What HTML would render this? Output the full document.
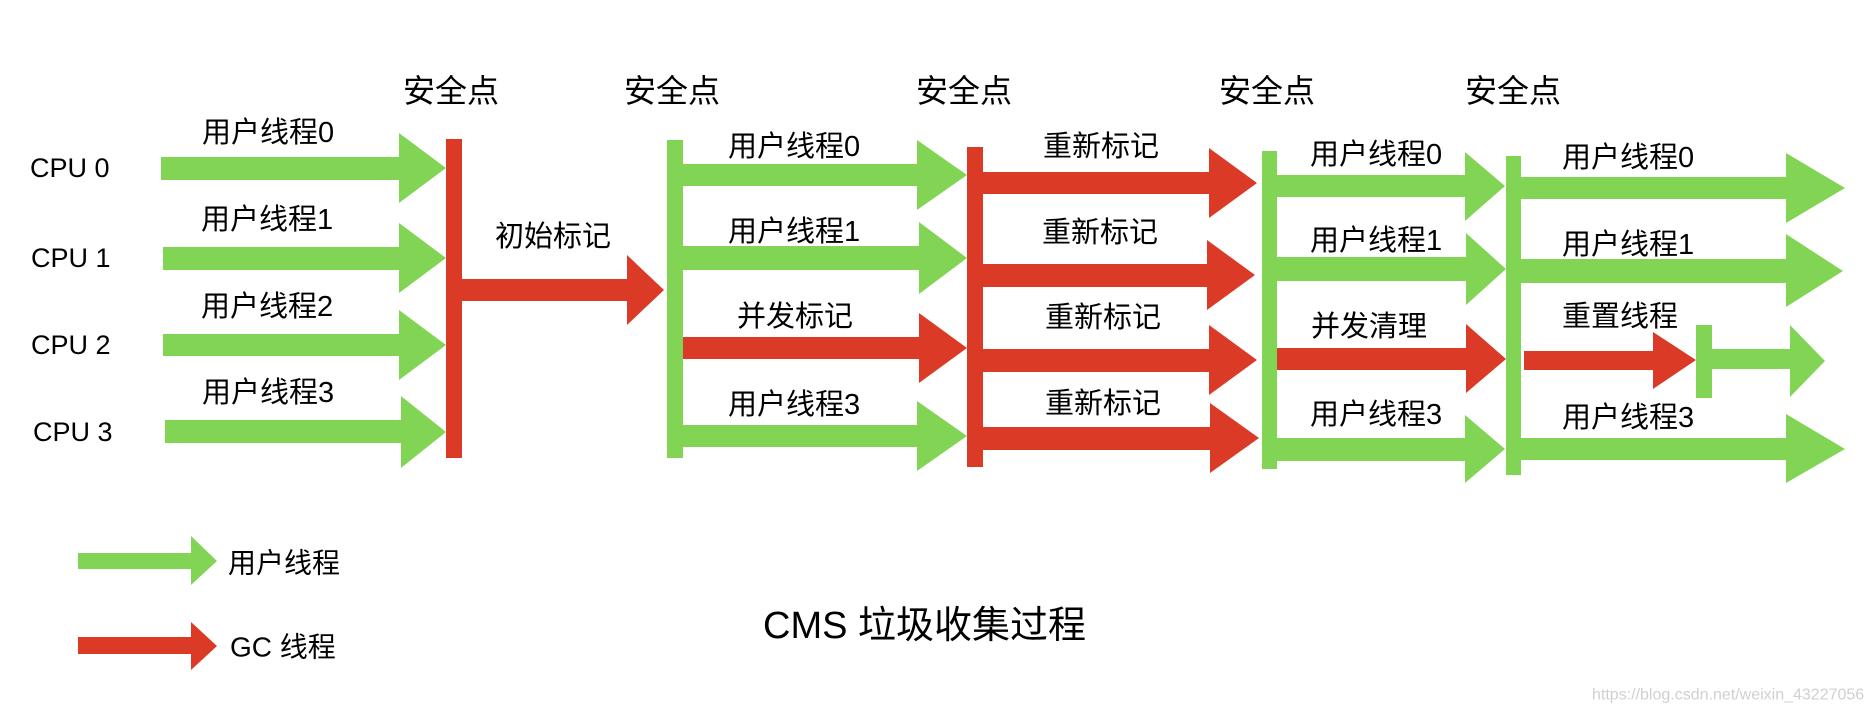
<!DOCTYPE html>
<html><head><meta charset="utf-8"><style>
html,body{margin:0;padding:0;background:#fff;}
svg{display:block;}
text{font-family:"Liberation Sans","Noto Sans CJK SC",sans-serif;fill:#000;dominant-baseline:central;}
</style></head><body>
<svg width="1870" height="714" viewBox="0 0 1870 714" xmlns="http://www.w3.org/2000/svg">
<rect width="1870" height="714" fill="#fff"/>
<g font-size="32">
<text x="403" y="91">安全点</text>
<text x="624" y="91">安全点</text>
<text x="916" y="91">安全点</text>
<text x="1219" y="91">安全点</text>
<text x="1465" y="91">安全点</text>
</g>
<g font-size="27">
<text x="30" y="168">CPU 0</text>
<text x="31" y="258">CPU 1</text>
<text x="31" y="345">CPU 2</text>
<text x="33" y="432">CPU 3</text>
</g>
<!-- col1 green arrows -->
<g fill="#82d454">
<polygon points="161,157 399,157 399,133 446,168 399,203 399,180 161,180"/>
<polygon points="163,247 399,247 399,223 446,258 399,293 399,270 163,270"/>
<polygon points="163,334 399,334 399,310 446,345 399,380 399,356 163,356"/>
<polygon points="165,420 401,420 401,396 446,432 401,468 401,443 165,443"/>
</g>
<rect x="446" y="139" width="16" height="319" fill="#db3a26"/>
<polygon fill="#db3a26" points="462,279 627,279 627,255 664,290 627,325 627,301 462,301"/>
<rect x="667" y="140" width="16" height="318" fill="#82d454"/>
<!-- col2 -->
<polygon fill="#82d454" points="683,164 917,164 917,140 967,175 917,210 917,186 683,186"/>
<polygon fill="#82d454" points="683,246 919,246 919,222 967,258 919,294 919,270 683,270"/>
<polygon fill="#db3a26" points="683,337 919,337 919,313 967,348 919,383 919,359 683,359"/>
<polygon fill="#82d454" points="683,425 917,425 917,401 967,436 917,471 917,447 683,447"/>
<rect x="967" y="147" width="16" height="320" fill="#db3a26"/>
<!-- col3 red -->
<g fill="#db3a26">
<polygon points="983,172 1209,172 1209,148 1257,183 1209,218 1209,194 983,194"/>
<polygon points="983,264 1207,264 1207,240 1255,275 1207,310 1207,287 983,287"/>
<polygon points="983,349 1209,349 1209,325 1257,360 1209,395 1209,372 983,372"/>
<polygon points="983,427 1210,427 1210,403 1259,438 1210,473 1210,450 983,450"/>
</g>
<rect x="1262" y="151" width="15" height="318" fill="#82d454"/>
<!-- col4 -->
<polygon fill="#82d454" points="1277,175 1465,175 1465,152 1505,186 1465,221 1465,197 1277,197"/>
<polygon fill="#82d454" points="1277,257 1466,257 1466,233 1506,269 1466,305 1466,281 1277,281"/>
<polygon fill="#db3a26" points="1277,348 1466,348 1466,324 1506,359 1466,393 1466,370 1277,370"/>
<polygon fill="#82d454" points="1277,438 1465,438 1465,415 1505,449 1465,483 1465,461 1277,461"/>
<rect x="1506" y="156" width="15" height="319" fill="#82d454"/>
<!-- col5 -->
<polygon fill="#82d454" points="1521,177 1786,177 1786,153 1845,188 1786,223 1786,199 1521,199"/>
<polygon fill="#82d454" points="1521,259 1786,259 1786,234 1843,271 1786,307 1786,283 1521,283"/>
<polygon fill="#db3a26" points="1524,351 1653,351 1653,332 1696,360 1653,389 1653,370 1524,370"/>
<rect x="1696" y="325" width="16" height="73" fill="#82d454"/>
<polygon fill="#82d454" points="1712,349 1790,349 1790,325 1825,361 1790,397 1790,369 1712,369"/>
<polygon fill="#82d454" points="1521,438 1786,438 1786,414 1845,449 1786,483 1786,460 1521,460"/>
<!-- labels -->
<g font-size="29">
<text x="202" y="133">用户线程0</text>
<text x="201" y="220">用户线程1</text>
<text x="201" y="307">用户线程2</text>
<text x="202" y="393">用户线程3</text>
<text x="495" y="237">初始标记</text>
<text x="728" y="147">用户线程0</text>
<text x="728" y="232">用户线程1</text>
<text x="737" y="317">并发标记</text>
<text x="728" y="405">用户线程3</text>
<text x="1043" y="147">重新标记</text>
<text x="1042" y="233">重新标记</text>
<text x="1045" y="318">重新标记</text>
<text x="1045" y="404">重新标记</text>
<text x="1310" y="155">用户线程0</text>
<text x="1310" y="241">用户线程1</text>
<text x="1311" y="327">并发清理</text>
<text x="1310" y="415">用户线程3</text>
<text x="1562" y="158">用户线程0</text>
<text x="1562" y="245">用户线程1</text>
<text x="1562" y="317">重置线程</text>
<text x="1562" y="418">用户线程3</text>
</g>
<!-- legend -->
<polygon fill="#82d454" points="78,553 191,553 191,536 217,561 191,585 191,569 78,569"/>
<polygon fill="#db3a26" points="78,637 191,637 191,622 217,646 191,670 191,654 78,654"/>
<text x="228" y="563" font-size="28">用户线程</text>
<text x="230" y="647" font-size="28">GC 线程</text>
<text x="763" y="626" font-size="38">CMS 垃圾收集过程</text>
<text x="1592" y="695" font-size="16" style="fill:#d0d0d0">https://blog.csdn.net/weixin_43227056</text>
</svg>
</body></html>
